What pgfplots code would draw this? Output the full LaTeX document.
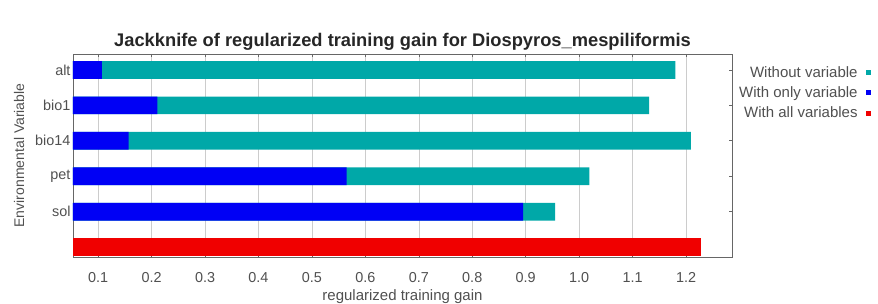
\documentclass[border=0pt]{standalone}
\usepackage{pgfplots}
\pgfplotsset{compat=1.18}
\usepackage{fontspec}
\setmainfont{Liberation Sans}
\definecolor{teal1}{RGB}{0,168,168}
\definecolor{blue1}{RGB}{0,0,245}
\definecolor{red1}{RGB}{240,0,0}
\definecolor{ticktxt}{RGB}{80,80,80}
\begin{document}
\begin{tikzpicture}
\path[use as bounding box] (0pt,0pt) rectangle (878pt,304pt);
\begin{axis}[
  at={(73pt,47pt)}, anchor=south west,
  width=659pt, height=203pt, scale only axis,
  xmin=0.053, xmax=1.286,
  ymin=-0.28, ymax=5.45,
  xbar, bar width=0.5, bar shift=0pt,
  xtick={0.1,0.2,...,1.21},
  xticklabels={0.1,0.2,0.3,0.4,0.5,0.6,0.7,0.8,0.9,1.0,1.1,1.2},
  ytick={1,2,3,4,5},
  yticklabels={sol,pet,bio14,bio1,alt},
  ytick pos=right, yticklabel pos=left,
  xtick pos=both,
  tick align=inside,
  major tick length=3pt,
  xmajorgrids, grid style={draw=gray!40, line width=0.6pt},
  axis line style={draw=gray!80!black, line width=0.8pt},
  tick style={draw=gray!80!black, line width=0.6pt},
  ticklabel style={font=\fontsize{14.4}{14.4}\selectfont, text=ticktxt},
  xticklabel style={yshift=-12pt},
  yticklabel style={xshift=1pt},
  title={\bfseries Jackknife of regularized training gain for Diospyros\_mespiliformis},
  title style={font=\fontsize{18.3}{18.3}\selectfont, yshift=-6pt, text=black!85},
  xlabel={regularized training gain},
  ylabel={Environmental Variable},
  label style={font=\fontsize{15}{15}\selectfont, text=ticktxt},
  xlabel style={yshift=0pt},
  ylabel style={yshift=4pt, font=\fontsize{14}{14}\selectfont},
  legend style={at={(1.0,0.96)}, anchor=north west, draw=none, fill=none,
    font=\fontsize{15}{15}\selectfont, text=ticktxt,
    row sep=4pt, xshift=2pt},
  legend cell align=right,
  legend plot pos=right,
  legend image code/.code={\path (0pt,0pt); \fill[#1] (6pt,-2.5pt) rectangle (11pt,2.5pt);},
]
\addplot[fill=teal1, draw=none] coordinates {(1.180,5) (1.131,4) (1.209,3) (1.019,2) (0.955,1)};
\addlegendentry{Without variable}
\addplot[fill=blue1, draw=none] coordinates {(0.107,5) (0.211,4) (0.157,3) (0.565,2) (0.895,1)};
\addlegendentry{With only variable}
\addplot[fill=red1, draw=none] coordinates {(1.228,0)};
\addlegendentry{With all variables}
\end{axis}
\end{tikzpicture}
\end{document}
